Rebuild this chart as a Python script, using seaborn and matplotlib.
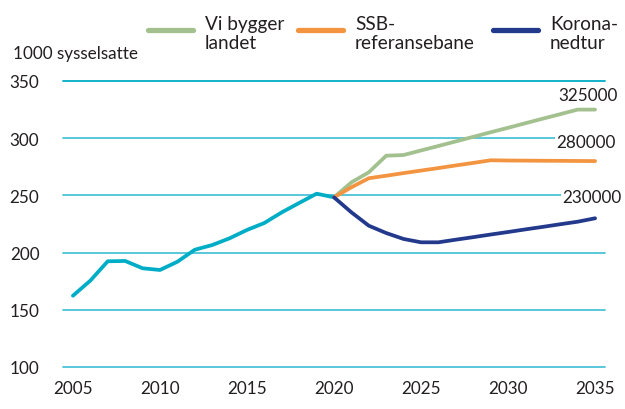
import matplotlib
matplotlib.use("Agg")
import matplotlib.pyplot as plt
import seaborn as sns
import pandas as pd
from matplotlib.lines import Line2D

# ---- data ----
hist_years = list(range(2005, 2021))
hist_values = [162.3, 175.5, 192.4, 192.7, 186.3, 184.8, 192.0, 202.5, 206.6,
               212.5, 219.8, 225.9, 235.2, 243.4, 251.5, 248.3]

scen_years = list(range(2020, 2036))
vi_bygger = [248.3, 261.4, 270.2, 284.7, 285.3, 289.3, 293.2, 297.2, 301.2,
             305.2, 309.1, 313.1, 317.1, 321.0, 325.0, 325.0]
ssb_ref = [248.3, 257.1, 265.0, 267.2, 269.5, 271.7, 273.9, 276.2, 278.4,
           280.7, 280.5, 280.4, 280.3, 280.2, 280.1, 280.0]
korona = [248.3, 235.2, 223.5, 217.1, 211.9, 209.0, 209.0, 211.3, 213.5,
          215.8, 218.0, 220.3, 222.5, 224.8, 227.0, 230.0]

series_names = ["Vi bygger\nlandet", "SSB-\nreferansebane", "Korona-\nnedtur"]
end_labels = ["325000", "280000", "230000"]
y_ticks = [100, 150, 200, 250, 300, 350]
x_ticks = [2005, 2010, 2015, 2020, 2025, 2030, 2035]
y_title = "1000 sysselsatte"

# ---- style ----
sns.set_theme(style="white")
plt.rcParams["font.family"] = ["Lato", "DejaVu Sans"]
TXT = "#231f20"
CYAN = "#00adc6"
GRID = "#4cc3d5"
colors = ["#a3c18f", "#f39440", "#233a8c"]

fig = plt.figure(figsize=(6.25, 4.10), dpi=100)
ax = fig.add_axes([63 / 625, 1 - 368 / 410, 542 / 625, 286 / 410])

# gridlines
for yv in y_ticks:
    ax.axhline(yv, color=GRID if yv != 350 else CYAN, lw=1.3, clip_on=False, zorder=1)

hist_df = pd.DataFrame({"year": hist_years, "value": hist_values})
sns.lineplot(data=hist_df, x="year", y="value", ax=ax, color=CYAN, lw=2.7,
             zorder=3)

scen_df = pd.concat([
    pd.DataFrame({"year": scen_years, "value": v, "scenario": n})
    for v, n in zip([vi_bygger, ssb_ref, korona], series_names)
])
sns.lineplot(data=scen_df, x="year", y="value", hue="scenario",
             palette=dict(zip(series_names, colors)), ax=ax, lw=2.7,
             zorder=4, legend=False)

ax.set_xlim(2004.43, 2035.57)
ax.set_ylim(100, 350)
ax.set_xticks(x_ticks)
ax.set_yticks(y_ticks)
ax.set_xticklabels([str(x) for x in x_ticks])
ax.set_yticklabels([str(y) for y in y_ticks])
ax.tick_params(axis="both", length=0, labelsize=12.3, labelcolor=TXT)
ax.tick_params(axis="y", pad=17)
ax.tick_params(axis="x", pad=9.5)
ax.set_xlabel("")
ax.set_ylabel("")
for s in ax.spines.values():
    s.set_visible(False)

# end labels
label_pos = [(2036.3, 338), (2036.2, 297), (2036.5, 248.5)]
for (xv, yv), lab in zip(label_pos, end_labels):
    ax.text(xv, yv, lab, ha="right", va="center", fontsize=12.3, color=TXT,
            bbox=dict(facecolor="white", edgecolor="none", pad=1),
            zorder=5, clip_on=False)

fig.text(13 / 625, 1 - 54 / 410, y_title, ha="left", va="center",
         fontsize=12.3, color=TXT)

# legend (drawn manually for exact placement)
W, H = 625, 410
legend_x = [148, 298, 493]
for x0, c, name in zip(legend_x, colors, series_names):
    fig.add_artist(Line2D([x0 / W, (x0 + 45) / W], [1 - 31 / H, 1 - 31 / H],
                          color=c, lw=3.8, transform=fig.transFigure))
    fig.text((x0 + 57) / W, 1 - 16 / H, name, ha="left", va="top",
             fontsize=13.7, color=TXT, linespacing=1.15)

fig.savefig("out.png", dpi=100)
